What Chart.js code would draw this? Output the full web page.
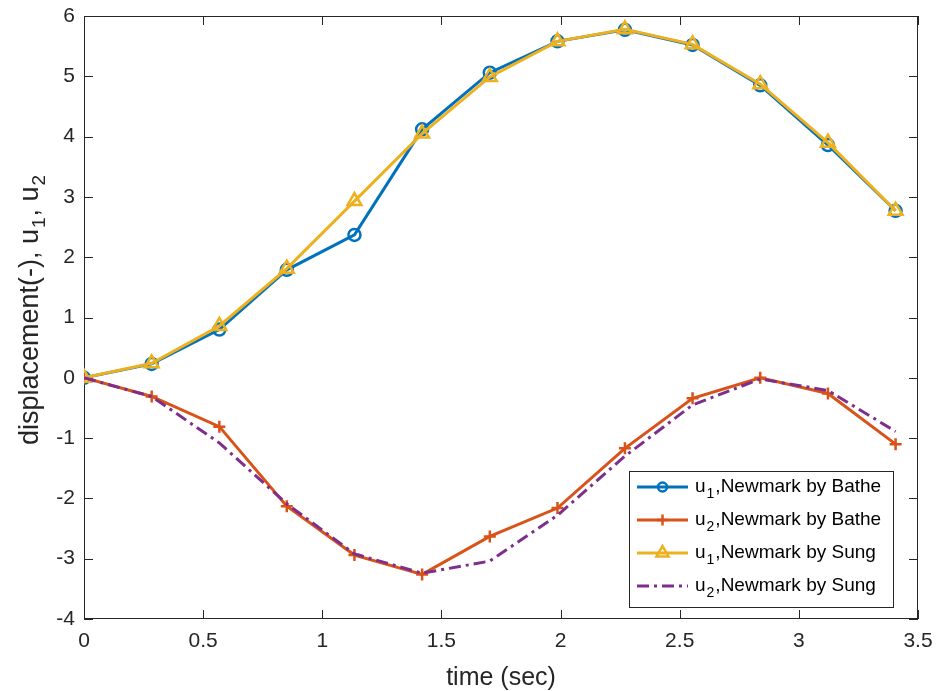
<!DOCTYPE html>
<html><head><meta charset="utf-8">
<script src="https://cdn.jsdelivr.net/npm/chart.js@4/dist/chart.umd.min.js"></script>
<style>html,body{margin:0;padding:0;background:#fff}canvas{display:block}</style>
</head><body>
<canvas id="c" width="936" height="691"></canvas>
<script>
// ---- data ----
const timeSec = [0, 0.284, 0.568, 0.851, 1.135, 1.419, 1.703, 1.987, 2.270, 2.554, 2.838, 3.122, 3.406];
const u1Bathe = [0, 0.23, 0.80, 1.79, 2.37, 4.12, 5.06, 5.58, 5.77, 5.52, 4.85, 3.86, 2.77];
const u2Bathe = [0, -0.31, -0.81, -2.13, -2.94, -3.26, -2.63, -2.16, -1.17, -0.34, 0.0, -0.26, -1.10];
const u1Sung  = [0, 0.24, 0.86, 1.81, 2.93, 4.05, 4.99, 5.58, 5.78, 5.53, 4.87, 3.90, 2.77];
const u2Sung  = [0, -0.31, -1.08, -2.09, -2.92, -3.24, -3.04, -2.28, -1.30, -0.45, -0.02, -0.21, -0.89];
const seriesLabels = ['u₁,Newmark by Bathe', 'u₂,Newmark by Bathe', 'u₁,Newmark by Sung', 'u₂,Newmark by Sung'];
const xTitle = 'time (sec)';
const yTitle = 'displacement(-), u₁, u₂';
const xRange = [0, 3.5], xStep = 0.5;
const yRange = [-4, 6], yStep = 1;

const FONT = '"Liberation Sans", Arial, Helvetica, sans-serif';
const AXIS = '#262626';
const pts = (ys) => timeSec.map((t, i) => ({x: t, y: ys[i]}));

// draw text with unicode subscript digits rendered smaller and lowered
const SUB = {'₁': '1', '₂': '2'};
function richParts(text) {
  const parts = []; let cur = '';
  for (const ch of text) {
    if (SUB[ch]) { if (cur) parts.push({t: cur, s: false}); cur = ''; parts.push({t: SUB[ch], s: true}); }
    else cur += ch;
  }
  if (cur) parts.push({t: cur, s: false});
  return parts;
}
function richWidth(ctx, text, size, subSize) {
  let w = 0;
  for (const p of richParts(text)) {
    ctx.font = (p.s ? subSize : size) + 'px ' + FONT;
    w += ctx.measureText(p.t).width + (p.s ? 2 : 0);
  }
  return w;
}
function drawRich(ctx, text, x, y, size, subSize, drop) {
  let cx = x;
  for (const p of richParts(text)) {
    ctx.font = (p.s ? subSize : size) + 'px ' + FONT;
    ctx.fillText(p.t, cx + (p.s ? 1 : 0), p.s ? y + drop : y);
    cx += ctx.measureText(p.t).width + (p.s ? 2 : 0);
  }
}

const legendRadius = {circle: 4.5, cross: 5.5, triangle: 7};

const boxPlugin = {
  id: 'matlabBox',
  beforeDatasetsDraw(chart) {
    const {ctx, chartArea: a, scales} = chart;
    ctx.save();
    ctx.strokeStyle = AXIS; ctx.lineWidth = 1;
    ctx.strokeRect(a.left + 0.5, a.top + 0.5, a.right - a.left - 1, a.bottom - a.top - 1);
    const L = 9;
    ctx.beginPath();
    for (let v = xRange[0]; v <= xRange[1] + 1e-9; v += xStep) {
      const px = Math.round(scales.x.getPixelForValue(v)) + 0.5;
      ctx.moveTo(px, a.bottom); ctx.lineTo(px, a.bottom - L);
      ctx.moveTo(px, a.top); ctx.lineTo(px, a.top + L);
    }
    for (let v = yRange[0]; v <= yRange[1] + 1e-9; v += yStep) {
      const py = Math.round(scales.y.getPixelForValue(v)) + 0.5;
      ctx.moveTo(a.left, py); ctx.lineTo(a.left + L, py);
      ctx.moveTo(a.right, py); ctx.lineTo(a.right - L, py);
    }
    ctx.stroke();
    // y title
    ctx.fillStyle = AXIS; ctx.textBaseline = 'alphabetic';
    const w = richWidth(ctx, yTitle, 27, 19);
    ctx.translate(38, (a.top + a.bottom) / 2 - 8);
    ctx.rotate(-Math.PI / 2);
    drawRich(ctx, yTitle, -w / 2, 0, 27, 19, 7);
    ctx.restore();
  },
  afterDraw(chart) {
    const {ctx} = chart;
    const bx = 629, by = 471, bw = 264, bh = 136;
    ctx.save();
    ctx.fillStyle = '#fff'; ctx.fillRect(bx, by, bw, bh);
    ctx.strokeStyle = AXIS; ctx.lineWidth = 1;
    ctx.strokeRect(bx + 0.5, by + 0.5, bw, bh);
    chart.data.datasets.forEach((ds, i) => {
      const y = 487 + i * 33;
      ctx.save();
      ctx.strokeStyle = ds.borderColor; ctx.lineWidth = ds.borderWidth;
      ctx.setLineDash(ds.borderDash || []);
      ctx.beginPath(); ctx.moveTo(637, y); ctx.lineTo(688, y); ctx.stroke();
      ctx.setLineDash([]);
      if (ds.pointRadius > 0) {
        ctx.fillStyle = 'rgba(0,0,0,0)';
        ctx.lineWidth = ds.pointBorderWidth;
        Chart.helpers.drawPoint(ctx, {pointStyle: ds.pointStyle, radius: legendRadius[ds.pointStyle], borderWidth: ds.pointBorderWidth, rotation: 0}, 662.5, y);
      }
      ctx.restore();
      ctx.fillStyle = '#000'; ctx.textBaseline = 'middle';
      drawRich(ctx, ds.label, 695, y, 19, 14, 7);
    });
    ctx.restore();
  }
};

new Chart(document.getElementById('c'), {
  type: 'line',
  data: {
    datasets: [
      {label: seriesLabels[0], data: pts(u1Bathe), borderColor: '#0072BD', backgroundColor: 'rgba(0,0,0,0)', borderWidth: 3,
       pointStyle: 'circle', pointRadius: 6, pointBorderWidth: 2.5, pointBorderColor: '#0072BD', pointBackgroundColor: 'rgba(0,0,0,0)', order: 3},
      {label: seriesLabels[1], data: pts(u2Bathe), borderColor: '#D95319', backgroundColor: 'rgba(0,0,0,0)', borderWidth: 3,
       pointStyle: 'cross', pointRadius: 6, pointBorderWidth: 2.5, pointBorderColor: '#D95319', order: 2},
      {label: seriesLabels[2], data: pts(u1Sung), borderColor: '#EDB120', backgroundColor: 'rgba(0,0,0,0)', borderWidth: 3,
       pointStyle: 'triangle', pointRadius: 8, pointBorderWidth: 2.5, pointBorderColor: '#EDB120', pointBackgroundColor: 'rgba(0,0,0,0)', order: 1},
      {label: seriesLabels[3], data: pts(u2Sung), borderColor: '#7E2F8E', backgroundColor: 'rgba(0,0,0,0)', borderWidth: 3,
       borderDash: [12, 5, 3, 5], borderCapStyle: 'butt', pointRadius: 0, order: 0}
    ]
  },
  options: {
    responsive: false, devicePixelRatio: 1, animation: false,
    layout: {padding: {top: 16, right: 18, left: 0, bottom: 0}},
    plugins: {legend: {display: false}, tooltip: {enabled: false}},
    elements: {line: {tension: 0, fill: false}},
    scales: {
      x: {type: 'linear', min: xRange[0], max: xRange[1],
          afterFit: (s) => { s.height = 72; s.paddingLeft = 0; s.paddingRight = 0; },
          grid: {display: false, drawTicks: false}, border: {display: false},
          ticks: {stepSize: xStep, color: AXIS, font: {family: FONT, size: 21}, padding: 10, maxRotation: 0,
                  callback: (v) => String(v)},
          title: {display: true, text: xTitle, color: AXIS, font: {family: FONT, size: 25, lineHeight: 1}, padding: {top: 0, bottom: 0}}},
      y: {type: 'linear', min: yRange[0], max: yRange[1],
          afterFit: (s) => { s.width = 84; s.paddingTop = 0; s.paddingBottom = 0; },
          grid: {display: false, drawTicks: false}, border: {display: false},
          ticks: {stepSize: yStep, color: AXIS, font: {family: FONT, size: 21}, padding: 9,
                  callback: (v) => String(v)}}
    }
  },
  plugins: [boxPlugin]
});
</script>
</body></html>
